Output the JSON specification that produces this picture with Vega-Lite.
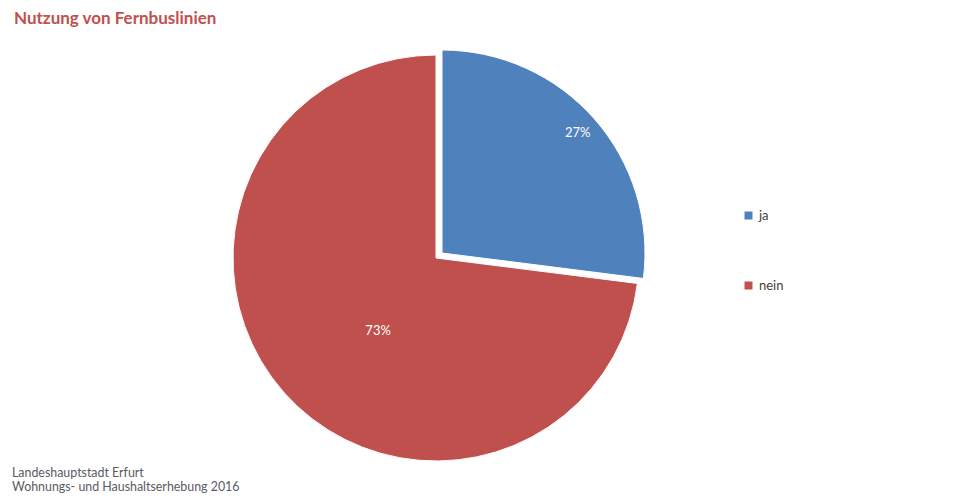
{
  "$schema": "https://vega.github.io/schema/vega-lite/v6.json",
  "padding": {"top": 10, "left": 0, "right": 0, "bottom": 0},
  "autosize": {"type": "pad"},
  "background": "white",
  "config": {"view": {"stroke": null}, "font": "Lato", "concat": {"spacing": 0}},
  "title": {"text": "Nutzung von Fernbuslinien", "anchor": "start", "frame": "group", "color": "#C0504D", "fontSize": 17, "fontWeight": "bold", "font": "Lato", "dx": 14, "offset": 3},
  "vconcat": [
    {
      "width": 960,
      "height": 430,
      "title": {"text": ["Landeshauptstadt Erfurt", "Wohnungs- und Haushaltserhebung 2016"], "orient": "bottom", "anchor": "start", "frame": "group", "dx": 12, "offset": 4, "fontSize": 12.4, "fontWeight": "normal", "font": "Lato", "color": "#5A5A64", "lineHeight": 14},
      "data": {"values": [
        {"antwort": "ja", "anteil": 27, "label": "27%"},
        {"antwort": "nein", "anteil": 73, "label": "73%"}
      ]},
      "layer": [
        {
          "transform": [
            {"stack": "anteil", "groupby": [], "sort": [{"field": "antwort"}], "as": ["t0", "t1"]},
            {"filter": "datum.antwort === 'nein'"}
          ],
          "mark": {"type": "arc", "outerRadius": 203, "stroke": "white", "strokeWidth": 1, "xOffset": -44, "yOffset": 12},
          "encoding": {
            "theta": {"field": "t0", "type": "quantitative", "scale": {"domain": [0, 100]}},
            "theta2": {"field": "t1"},
            "color": {"field": "antwort", "type": "nominal", "scale": {"domain": ["ja", "nein"], "range": ["#4F81BD", "#C0504D"]},
              "legend": {"title": null, "orient": "none", "legendX": 742, "legendY": 178, "symbolType": "square", "symbolSize": 64, "symbolStrokeWidth": 0, "labelFontSize": 13, "labelFont": "Lato", "labelColor": "#404040", "rowPadding": 56, "padding": 0, "labelOffset": 4}}
          }
        },
        {
          "transform": [
            {"stack": "anteil", "groupby": [], "sort": [{"field": "antwort"}], "as": ["t0", "t1"]},
            {"filter": "datum.antwort === 'ja'"}
          ],
          "mark": {"type": "arc", "outerRadius": 203, "stroke": "white", "strokeWidth": 1, "xOffset": -38, "yOffset": 7},
          "encoding": {
            "theta": {"field": "t0", "type": "quantitative"},
            "theta2": {"field": "t1"},
            "color": {"field": "antwort", "type": "nominal"}
          }
        },
        {
          "mark": {"type": "text", "radius": 181, "xOffset": -38, "yOffset": 7, "fontSize": 13, "color": "white", "font": "Lato"},
          "encoding": {
            "theta": {"field": "anteil", "type": "quantitative", "stack": true},
            "order": {"field": "antwort", "type": "ordinal", "sort": "ascending"},
            "text": {"condition": {"test": "datum.antwort === 'ja'", "field": "label"}, "value": ""}
          }
        },
        {
          "mark": {"type": "text", "radius": 93, "thetaOffset": -0.176, "xOffset": -44, "yOffset": 12, "fontSize": 13, "color": "white", "font": "Lato"},
          "encoding": {
            "theta": {"field": "anteil", "type": "quantitative", "stack": true},
            "order": {"field": "antwort", "type": "ordinal", "sort": "ascending"},
            "text": {"condition": {"test": "datum.antwort === 'nein'", "field": "label"}, "value": ""}
          }
        }
      ]
    }
  ]
}
